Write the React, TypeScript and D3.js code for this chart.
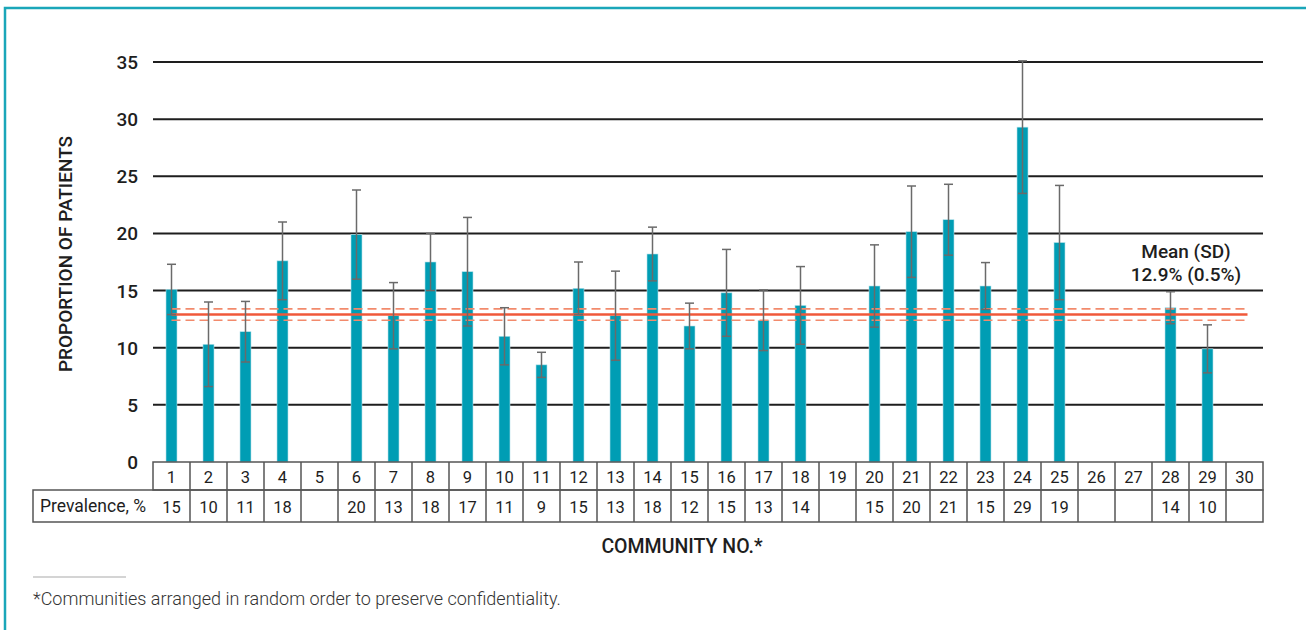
import * as d3 from 'd3';
import { useEffect, useRef } from 'react';

// Community numbers (x categories)
const communities = d3.range(1, 31).map(String);

// Proportion of patients per community (null = no bar)
const proportions: (number | null)[] = [
  15.1, 10.3, 11.4, 17.6, null, 19.9, 12.8, 17.5, 16.65, 11.0,
  8.5, 15.2, 12.8, 18.2, 11.9, 14.8, 12.4, 13.7, null, 15.4,
  20.15, 21.2, 15.4, 29.3, 19.2, null, null, 13.5, 9.9, null,
];

// Error bar half-widths
const errors: (number | null)[] = [
  2.2, 3.7, 2.65, 3.4, null, 3.9, 2.9, 2.5, 4.75, 2.5,
  1.1, 2.3, 3.9, 2.35, 2.0, 3.8, 2.65, 3.4, null, 3.6,
  4.0, 3.1, 2.05, 5.8, 5.0, null, null, 1.4, 2.1, null,
];

// Prevalence row of the table
const prevalence = [
  '15', '10', '11', '18', '', '20', '13', '18', '17', '11',
  '9', '15', '13', '18', '12', '15', '13', '14', '', '15',
  '20', '21', '15', '29', '19', '', '', '14', '10', '',
];

const yTicks = [0, 5, 10, 15, 20, 25, 30, 35];
const mean = 12.9;
const sd = 0.5;

const FONT = 'Roboto, "Open Sans", sans-serif';

const App = () => {
  const ref = useRef<SVGSVGElement>(null);

  useEffect(() => {
    const svg = d3.select(ref.current);
    svg.selectAll('*').remove();

    const width = 1306, height = 630;
    svg.attr('width', width).attr('height', height);

    // frame
    svg.append('path')
      .attr('d', `M5,${height + 5} V8 H${width + 5}`)
      .attr('fill', 'none')
      .attr('stroke', '#1aa6b9')
      .attr('stroke-width', 2.5);

    const x = d3.scaleBand<string>().domain(communities).range([153, 1263]).padding(0);
    const y = d3.scaleLinear().domain([0, 35]).range([462, 62]);
    const barW = 11;
    const cx = (c: string) => (x(c) ?? 0) + x.bandwidth() / 2;

    // gridlines
    svg.append('g').selectAll('line')
      .data(yTicks.filter(t => t > 0))
      .enter().append('line')
      .attr('x1', 153).attr('x2', 1263)
      .attr('y1', d => y(d)).attr('y2', d => y(d))
      .attr('stroke', '#1e1e1e')
      .attr('stroke-width', 2);

    // y tick labels
    svg.append('g').selectAll('text')
      .data(yTicks)
      .enter().append('text')
      .attr('x', 138).attr('y', d => y(d) + 7)
      .attr('text-anchor', 'end')
      .style('font-family', FONT)
      .style('font-size', '19px')
      .style('font-weight', 500)
      .attr('fill', '#1e1e1e')
      .text(d => d);

    // y axis title
    svg.append('text')
      .attr('transform', 'translate(72,254) rotate(-90)')
      .attr('text-anchor', 'middle')
      .style('font-family', FONT)
      .style('font-size', '19px')
      .style('font-weight', 500)
      .attr('fill', '#1e1e1e')
      .text('PROPORTION OF PATIENTS');

    const rows = communities.map((c, i) => ({ c, v: proportions[i], e: errors[i] }));
    const withBars = rows.filter(d => d.v !== null);

    // bars
    svg.append('g').selectAll('rect')
      .data(withBars)
      .enter().append('rect')
      .attr('x', d => cx(d.c) - barW / 2)
      .attr('width', barW)
      .attr('y', d => y(d.v as number))
      .attr('height', d => y(0) - y(d.v as number))
      .attr('fill', '#009db4')
      .attr('stroke', '#b5e2ea')
      .attr('stroke-width', 0.6);

    // mean and SD lines
    const mx1 = cx(communities[0]);
    const mx2 = cx(communities[communities.length - 1]) + 3;
    svg.append('line')
      .attr('x1', mx1).attr('x2', mx2)
      .attr('y1', y(mean + sd)).attr('y2', y(mean + sd))
      .attr('stroke', '#f28a6c').attr('stroke-width', 1.6)
      .attr('stroke-dasharray', '9,5');
    svg.append('line')
      .attr('x1', mx1).attr('x2', mx2)
      .attr('y1', y(mean - sd)).attr('y2', y(mean - sd))
      .attr('stroke', '#f28a6c').attr('stroke-width', 1.6)
      .attr('stroke-dasharray', '9,5');
    svg.append('line')
      .attr('x1', mx1).attr('x2', mx2)
      .attr('y1', y(mean)).attr('y2', y(mean))
      .attr('stroke', '#f0583a').attr('stroke-width', 2.6);

    // error bars
    const eb = svg.append('g')
      .attr('stroke', '#6a6a6a')
      .attr('stroke-width', 1.5);
    withBars.forEach(d => {
      const v = d.v as number, e = d.e as number, px = cx(d.c);
      eb.append('line').attr('x1', px).attr('x2', px).attr('y1', y(v + e)).attr('y2', y(v - e));
      eb.append('line').attr('x1', px - 4.5).attr('x2', px + 4.5).attr('y1', y(v + e)).attr('y2', y(v + e));
      eb.append('line').attr('x1', px - 4.5).attr('x2', px + 4.5).attr('y1', y(v - e)).attr('y2', y(v - e));
    });

    // mean label
    const ml = svg.append('text')
      .attr('text-anchor', 'middle')
      .style('font-family', FONT)
      .style('font-size', '19px')
      .style('font-weight', 500)
      .attr('fill', '#1e1e1e');
    ml.append('tspan').attr('x', 1186).attr('y', 258).text('Mean (SD)');
    ml.append('tspan').attr('x', 1186).attr('y', 281).text(`${mean}% (${sd}%)`);

    // table
    const tRow1 = 462, tRow2 = 490, tBottom = 522;
    const tbl = svg.append('g')
      .attr('stroke', '#555')
      .attr('stroke-width', 1.5)
      .attr('fill', 'none');
    tbl.append('rect').attr('x', 153).attr('y', tRow1).attr('width', 1110).attr('height', tRow2 - tRow1);
    tbl.append('rect').attr('x', 33).attr('y', tRow2).attr('width', 1230).attr('height', tBottom - tRow2);
    tbl.selectAll('line.col')
      .data(communities.slice(1))
      .enter().append('line')
      .attr('x1', d => x(d) as number).attr('x2', d => x(d) as number)
      .attr('y1', tRow1).attr('y2', tBottom);

    svg.append('g').selectAll('text')
      .data(communities)
      .enter().append('text')
      .attr('x', d => cx(d)).attr('y', 483)
      .attr('text-anchor', 'middle')
      .style('font-family', FONT)
      .style('font-size', '16.5px')
      .attr('fill', '#1e1e1e')
      .text(d => d);

    svg.append('g').selectAll('text')
      .data(communities.map((c, i) => ({ c, p: prevalence[i] })))
      .enter().append('text')
      .attr('x', d => cx(d.c)).attr('y', 513)
      .attr('text-anchor', 'middle')
      .style('font-family', FONT)
      .style('font-size', '16.5px')
      .attr('fill', '#1e1e1e')
      .text(d => d.p);

    svg.append('text')
      .attr('x', 93).attr('y', 512)
      .attr('text-anchor', 'middle')
      .style('font-family', FONT)
      .style('font-size', '17.5px')
      .attr('fill', '#1e1e1e')
      .text('Prevalence, %');

    // x axis title
    svg.append('text')
      .attr('x', 682).attr('y', 553)
      .attr('text-anchor', 'middle')
      .style('font-family', FONT)
      .style('font-size', '19.5px')
      .style('font-weight', 500)
      .attr('fill', '#1e1e1e')
      .text('COMMUNITY NO.*');

    // footnote
    svg.append('line')
      .attr('x1', 33).attr('x2', 126).attr('y1', 577).attr('y2', 577)
      .attr('stroke', '#aaa').attr('stroke-width', 1.2);
    svg.append('text')
      .attr('x', 33).attr('y', 605)
      .style('font-family', FONT)
      .style('font-size', '18px')
      .style('font-weight', 300)
      .attr('fill', '#333')
      .text('*Communities arranged in random order to preserve confidentiality.');
  }, []);

  return <svg ref={ref} style={{ position: 'absolute', left: 0, top: 0 }}></svg>;
};

export default App;
